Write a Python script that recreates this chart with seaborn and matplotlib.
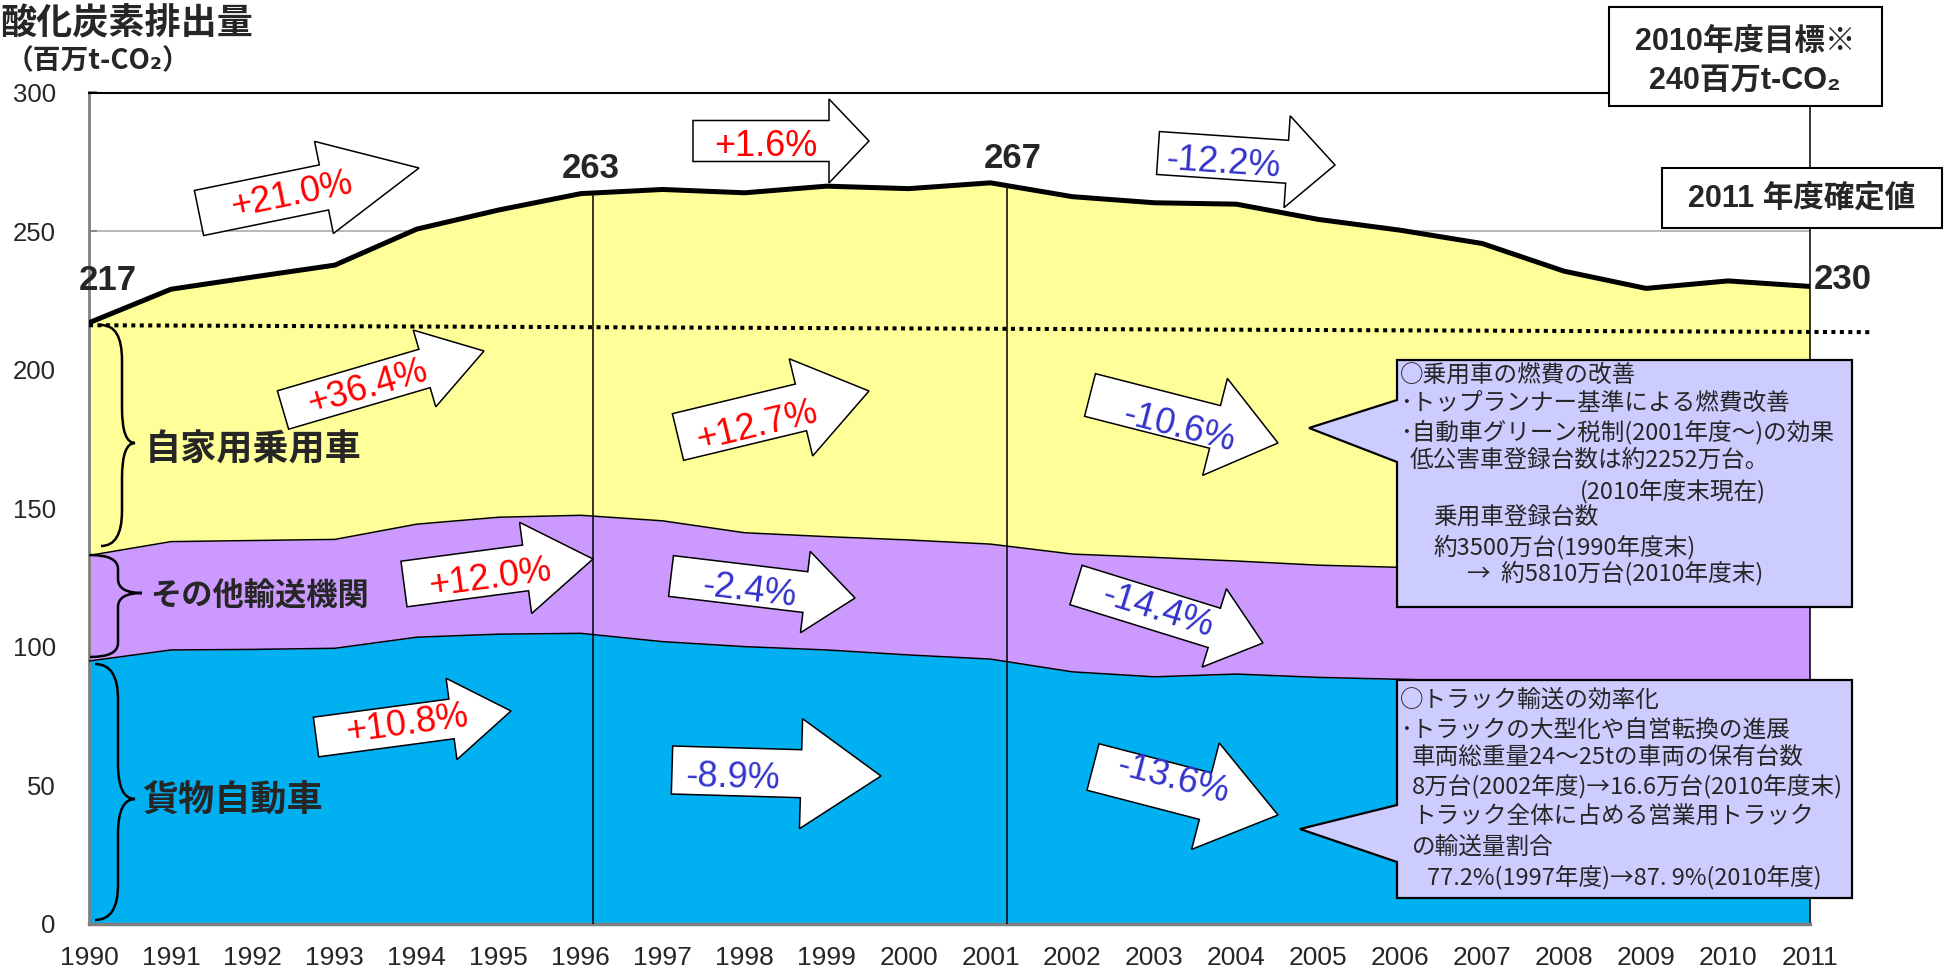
import numpy as np
import matplotlib
matplotlib.use("Agg")
import matplotlib.pyplot as plt
import seaborn as sns
from matplotlib.patches import Polygon, Rectangle, PathPatch
from matplotlib.path import Path

# ==================================
# DATA
# ==================================
YEARS = list(range(1990, 2012))

# 貨物自動車 / その他輸送機関 / 自家用乗用車 (百万t-CO2, stacked)
CARGO = [94.8, 98.8, 99.0, 99.4, 103.4, 104.5, 104.8, 101.8, 100.0, 98.8, 97.0,
         95.5, 90.9, 89.1, 90.1, 88.9, 88.2, 87.5, 86.5, 85.0, 86.0, 86.0]
OTHER = [38.1, 39.1, 39.3, 39.3, 40.8, 42.2, 42.6, 43.6, 41.1, 40.9, 41.5,
         41.5, 42.5, 43.1, 40.8, 40.5, 40.4, 40.0, 40.0, 40.0, 39.5, 39.0]
PASSENGER = [84.0, 91.1, 95.1, 99.0, 106.5, 110.9, 116.1, 119.6, 122.7, 126.5, 126.8,
             130.4, 129.0, 128.0, 128.8, 124.8, 121.7, 118.0, 109.0, 104.3, 106.5, 105.0]

LAYER_NAMES = ["自家用乗用車", "その他輸送機関", "貨物自動車"]
TOTAL_LABELS = ["217", "263", "267", "230"]
CHANGES = ["+21.0%", "+1.6%", "-12.2%",
           "+36.4%", "+12.7%", "-10.6%",
           "+12.0%", "-2.4%", "-14.4%",
           "+10.8%", "-8.9%", "-13.6%"]

TARGET_LINE = [216.0, 213.5]     # dotted 1990 level line (start, end)
SPLIT_YEARS = [1996.15, 2001.2]

TARGET_BOX = ["2010年度目標※", "240百万t-CO₂"]
FINAL_BOX = "2011 年度確定値"

CAR_NOTE = ["○乗用車の燃費の改善",
            "･トップランナー基準による燃費改善",
            "･自動車グリーン税制(2001年度～)の効果",
            "低公害車登録台数は約2252万台。",
            "(2010年度末現在)",
            "乗用車登録台数",
            "約3500万台(1990年度末)",
            "→  約5810万台(2010年度末)"]
TRUCK_NOTE = ["○トラック輸送の効率化",
              "･トラックの大型化や自営転換の進展",
              "車両総重量24～25tの車両の保有台数",
              "8万台(2002年度)→16.6万台(2010年度末)",
              "トラック全体に占める営業用トラック",
              "の輸送量割合",
              "77.2%(1997年度)→87. 9%(2010年度)"]

# ==================================
# STYLE
# ==================================
W, H = 1946, 968
YELLOW = "#FFFF99"
PURPLE = "#CC99FF"
BLUE = "#00B0F0"
RED = "#FF0000"
NAVY = "#3333CC"
NOTE_FILL = "#CCCCFF"

sns.set_theme(style="white")
plt.rcParams["font.family"] = ["Liberation Sans", "Noto Sans CJK JP", "DejaVu Sans"]
JP = ["Noto Sans CJK JP", "DejaVu Sans"]


def fp(x, y):
    # reference pixel (top-left origin) -> figure fraction
    return x / W, 1 - y / H


# ==================================
# CHART
# ==================================
fig = plt.figure(figsize=(W / 100, H / 100), dpi=100)
ax = fig.add_axes([89 / W, 1 - 923.7 / H, (1810 - 89) / W, (923.7 - 92.5) / H])

cargo = np.array(CARGO)
mid = cargo + np.array(OTHER)
total = mid + np.array(PASSENGER)

ax.stackplot(YEARS, CARGO, OTHER, PASSENGER, colors=[BLUE, PURPLE, YELLOW],
             linewidth=0, zorder=2)
sns.lineplot(x=YEARS, y=cargo, color="black", lw=1.1, ax=ax, zorder=3)
sns.lineplot(x=YEARS, y=mid, color="black", lw=1.1, ax=ax, zorder=3)
sns.lineplot(x=YEARS, y=total, color="black", lw=3.6, ax=ax, zorder=4)

ax.vlines(SPLIT_YEARS, 0, np.interp(SPLIT_YEARS, YEARS, total),
          color="black", lw=1.1, zorder=3)
ax.plot([1990, 2011.73], TARGET_LINE, color="black", lw=2.9,
        linestyle=(0, (1, 1.1)), dash_capstyle="butt", clip_on=False, zorder=5)

ax.set_xlim(1990, 2011)
ax.set_ylim(0, 300)
ax.set_xticks(YEARS)
ax.set_xticklabels([str(y) for y in YEARS])
ax.set_yticks(range(0, 301, 50))
ax.yaxis.grid(True, color="#A6A6A6", lw=1.1, zorder=1)
ax.xaxis.grid(False)
ax.set_axisbelow(True)
ax.tick_params(axis="y", direction="in", length=6, width=1.2, color="#808080",
               labelsize=18.5, pad=24, left=True)
ax.tick_params(axis="x", length=0, labelsize=19, pad=16)
for side, col, lw in [("top", "black", 1.5), ("right", "black", 1.1),
                      ("left", "#808080", 2.0), ("bottom", "#808080", 2.5)]:
    ax.spines[side].set_color(col)
    ax.spines[side].set_linewidth(lw)
    ax.spines[side].set_visible(True)
ax.set_xlabel("")
ax.set_ylabel("")

# ==================================
# TITLES AND BOXES
# ==================================
fig.text(*fp(0, 24), "酸化炭素排出量", ha="left", va="center",
         fontsize=26, fontweight="bold", family=JP)
fig.text(*fp(6, 61), "（百万t-CO₂）", ha="left", va="center",
         fontsize=20, fontweight="bold", family=JP)

fig.add_artist(Rectangle(fp(1609, 106), 273 / W, 99 / H, transform=fig.transFigure,
                         facecolor="white", edgecolor="black", lw=1.5, zorder=2))
fig.text(*fp(1745, 42), TARGET_BOX[0], ha="center", va="center",
         fontsize=22, fontweight="bold", zorder=3)
fig.text(*fp(1745, 81), TARGET_BOX[1], ha="center", va="center",
         fontsize=22, fontweight="bold", zorder=3)
fig.add_artist(Rectangle(fp(1662, 228), 280 / W, 60 / H, transform=fig.transFigure,
                         facecolor="white", edgecolor="black", lw=1.5, zorder=2))
fig.text(*fp(1802, 198), FINAL_BOX, ha="center", va="center",
         fontsize=22, fontweight="bold", zorder=3)

# total value labels
for lab, (x, y) in zip(TOTAL_LABELS, [(108, 281), (591, 169), (1013, 158), (1843, 280)]):
    fig.text(*fp(x, y), lab, ha="center", va="center", fontsize=25,
             fontweight="bold", zorder=4)

# ==================================
# BRACES AND CATEGORY LABELS
# ==================================
def brace(x0, xs, xt, yt, ym, yb, r):
    pts = [(x0, yt), (xs, yt), (xs, yt + r),
           (xs, ym - r), (xs, ym), (xt, ym),
           (xs, ym), (xs, ym + r),
           (xs, yb - r), (xs, yb), (x0, yb)]
    codes = [Path.MOVETO, Path.CURVE3, Path.CURVE3, Path.LINETO, Path.CURVE3,
             Path.CURVE3, Path.CURVE3, Path.CURVE3, Path.LINETO, Path.CURVE3,
             Path.CURVE3]
    path = Path([fp(*p) for p in pts], codes)
    fig.add_artist(PathPatch(path, facecolor="none", edgecolor="black", lw=1.8,
                             transform=fig.transFigure, zorder=2))


brace(101, 122, 135, 325, 443, 546, 35)
brace(90, 118, 142, 555, 593, 657, 14)
brace(95, 118, 135, 664, 799, 920, 35)

for name, (x, y, fs) in zip(LAYER_NAMES, [(145, 450, 26), (150, 597, 22.5), (142, 801, 26)]):
    fig.text(*fp(x, y), name, ha="left", va="center", fontsize=fs,
             fontweight="bold", family=JP, zorder=4)

# ==================================
# CHANGE ARROWS
# ==================================
ARROWS = [  # tail, tip, body half width, head half width, head length, text centre
    ((199, 213), (419, 168), 23, 47, 97, (292, 195)),
    ((693, 141), (869, 141), 20.5, 42, 40, (766, 146)),
    ((1158, 153), (1335, 165), 21.5, 46, 48, (1223, 163)),
    ((283, 410), (484, 351), 20, 40, 62, (368, 388)),
    ((678, 437), (869, 391), 24, 50, 70, (757, 426)),
    ((1090, 395), (1278, 443), 22, 50, 65, (1179, 428)),
    ((404, 584), (593, 559), 23, 46, 68, (490, 578)),
    ((671, 576), (855, 598), 20.5, 41, 50, (749, 591)),
    ((1076, 585), (1263, 643), 20.6, 41, 51, (1158, 611)),
    ((316, 737), (511, 711), 20, 41, 60, (407, 724)),
    ((672, 770), (881, 776), 24, 55, 80, (733, 778)),
    ((1093, 767), (1278, 815), 24, 55, 75, (1173, 779)),
]

for lab, (tail, tip, bw, hw, hl, tc) in zip(CHANGES, ARROWS):
    tail = np.array(tail, float)
    tip = np.array(tip, float)
    u = (tip - tail) / np.linalg.norm(tip - tail)
    n = np.array([-u[1], u[0]])
    base = tip - u * hl
    pts = [tail + n * bw, base + n * bw, base + n * hw, tip,
           base - n * hw, base - n * bw, tail - n * bw]
    fig.add_artist(Polygon([fp(*p) for p in pts], closed=True, transform=fig.transFigure,
                           facecolor="white", edgecolor="black", lw=1.1, zorder=2))
    ang = np.degrees(np.arctan2(-(tip[1] - tail[1]), tip[0] - tail[0]))
    fig.text(*fp(*tc), lab, ha="center", va="center", rotation=ang,
             rotation_mode="anchor", fontsize=26,
             color=RED if lab.startswith("+") else NAVY, zorder=4)

# ==================================
# CALLOUT NOTES
# ==================================
def callout(x0, y0, x1, y1, g0, g1, tip, lines, ys, xs):
    pts = [(x0, y0), (x1, y0), (x1, y1), (x0, y1), (x0, g1), tip, (x0, g0)]
    fig.add_artist(Polygon([fp(*p) for p in pts], closed=True, transform=fig.transFigure,
                           facecolor=NOTE_FILL, edgecolor="black", lw=1.6, zorder=2))
    for line, y, x in zip(lines, ys, xs):
        fig.text(*fp(x, y), line, ha="left", va="center", fontsize=17,
                 family=JP, zorder=4)


callout(1397, 360, 1852, 607, 400, 462, (1309, 428), CAR_NOTE,
        [375, 403, 432, 460, 492, 518, 547, 573],
        [1400, 1400, 1400, 1410, 1580, 1433, 1433, 1467])
callout(1397, 680, 1852, 898, 805, 862, (1300, 829), TRUCK_NOTE,
        [700, 730, 758, 787, 817, 847, 878],
        [1400, 1400, 1412, 1412, 1412, 1412, 1427])

fig.savefig("out.png", dpi=100)
